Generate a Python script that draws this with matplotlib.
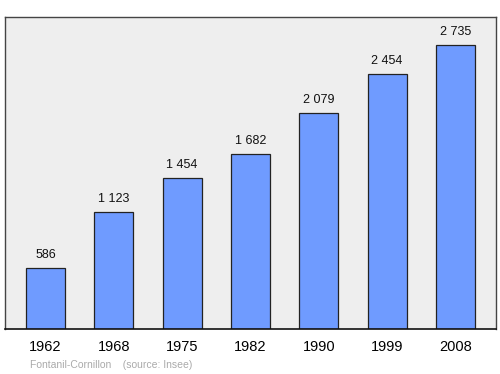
import matplotlib.pyplot as plt

plt.rcParams['font.family'] = ['Liberation Sans', 'DejaVu Sans']

years = ['1962', '1968', '1975', '1982', '1990', '1999', '2008']
population = [586, 1123, 1454, 1682, 2079, 2454, 2735]
labels = ['586', '1 123', '1 454', '1 682', '2 079', '2 454', '2 735']

fig = plt.figure(figsize=(5, 3.74), dpi=100)
ax = fig.add_axes([0.01, 0.1203, 0.982, 0.834])
ax.set_facecolor('#eeeeee')

x = range(len(years))
bars = ax.bar(x, population, width=0.57, color='#6f9bff',
              edgecolor='#222222', linewidth=0.9, zorder=2)

for bar, text in zip(bars, labels):
    ax.annotate(text, (bar.get_x() + bar.get_width() / 2, bar.get_height()),
                xytext=(0, 5), textcoords='offset points',
                ha='center', va='bottom', fontsize=9, color='#111111')

ax.set_xlim(-0.593, 6.593)
ax.set_ylim(0, 3005)
ax.set_xticks(list(x))
ax.set_xticklabels(years, fontsize=10.5)
ax.tick_params(axis='x', length=0, pad=8)
ax.set_yticks([])

for side in ['left', 'top', 'right']:
    ax.spines[side].set_color('#444444')
    ax.spines[side].set_linewidth(1.0)
ax.spines['bottom'].set_color('#111111')
ax.spines['bottom'].set_linewidth(1.2)

fig.text(0.06, 0.017, 'Fontanil-Cornillon    (source: Insee)',
         fontsize=7.5, color='#aaaaaa', ha='left', va='baseline')

fig.savefig('out.png', dpi=100)
